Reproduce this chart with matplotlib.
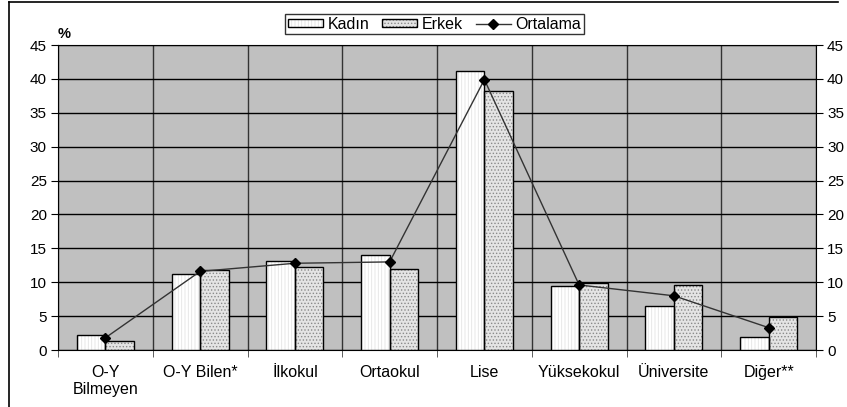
import numpy as np
import matplotlib
matplotlib.use("Agg")
import matplotlib.pyplot as plt
from matplotlib.patches import Patch
from matplotlib.lines import Line2D
from matplotlib.legend_handler import HandlerTuple

categories = ["O-Y\nBilmeyen", "O-Y Bilen*", "İlkokul", "Ortaokul", "Lise",
              "Yüksekokul", "Üniversite", "Diğer**"]
kadin = [2.2, 11.2, 13.2, 14.0, 41.2, 9.4, 6.5, 1.9]
erkek = [1.3, 11.8, 12.3, 11.9, 38.2, 9.9, 9.6, 4.8]
ortalama = [1.8, 11.6, 12.8, 13.0, 39.9, 9.6, 8.0, 3.3]
yticks = list(range(0, 50, 5))

plt.rcParams['font.family'] = ['Liberation Sans', 'DejaVu Sans']
plt.rcParams['hatch.linewidth'] = 0.6

fig = plt.figure(figsize=(8.47, 4.07), dpi=100)
ax = fig.add_axes([0.0685, 0.140, 0.8949, 0.7494])
ax.set_facecolor('#c0c0c0')

x = np.arange(len(categories))
w = 0.3
# hatched fills, then black outlines
ax.bar(x - w / 2, kadin, w, color='white', edgecolor='#e4e4e4', hatch='|||||',
       linewidth=0, zorder=3)
ax.bar(x + w / 2, erkek, w, color='#e4e4e4', edgecolor='#8a8a8a', hatch='.....',
       linewidth=0, zorder=3)
ax.bar(x - w / 2, kadin, w, fill=False, edgecolor='black', linewidth=1, zorder=4)
ax.bar(x + w / 2, erkek, w, fill=False, edgecolor='black', linewidth=1, zorder=4)
ax.plot(x, ortalama, color='#333333', lw=1, marker='D', ms=5.5,
        mfc='black', mec='black', zorder=5)

ax.set_xlim(-0.5, len(categories) - 0.5)
ax.set_ylim(0, 45)
ax.set_yticks(yticks)
ax.set_xticks(x)
ax.set_xticklabels(categories, fontsize=11.5, linespacing=1.15)
ax.set_xticks(np.arange(-0.5, len(categories)), minor=True)
ax.tick_params(axis='x', which='major', length=0, pad=11)
ax.tick_params(axis='x', which='minor', length=5, direction='out', color='#444444')
ax.tick_params(axis='y', labelsize=11, length=5, direction='out', pad=3)
ax.grid(axis='y', which='major', color='black', lw=1, zorder=1)
ax.grid(axis='x', which='minor', color='#333333', lw=1, zorder=1)
ax.set_axisbelow(True)
for s in ax.spines.values():
    s.set_color('black')

ax2 = ax.twinx()
ax2.set_ylim(0, 45)
ax2.set_yticks(yticks)
ax2.tick_params(axis='y', labelsize=11, length=5, direction='out', pad=3)
for s in ax2.spines.values():
    s.set_visible(False)

ax.text(0.0, 1.012, "%", transform=ax.transAxes, fontsize=10.5,
        fontweight='bold', ha='left', va='bottom')

h_k = (Patch(facecolor='white', edgecolor='#e4e4e4', hatch='|||||', lw=0),
       Patch(fill=False, edgecolor='black', lw=1))
h_e = (Patch(facecolor='#e4e4e4', edgecolor='#8a8a8a', hatch='.....', lw=0),
       Patch(fill=False, edgecolor='black', lw=1))
h_o = Line2D([], [], color='#333333', lw=1, marker='D', ms=5.5, mfc='black', mec='black')
leg = fig.legend([h_k, h_e, h_o], ["Kadın", "Erkek", "Ortalama"],
                 handler_map={tuple: HandlerTuple(ndivide=1)},
                 loc='center', bbox_to_anchor=(0.513, 0.941), ncol=3,
                 fontsize=11.5, frameon=True, fancybox=False, edgecolor='black',
                 borderpad=0.15, handlelength=2.2, handleheight=0.45,
                 handletextpad=0.3, columnspacing=0.8, borderaxespad=0)
leg.get_frame().set_linewidth(1)

# outer chart frame
fig.add_artist(Line2D([9 / 847, 9 / 847], [0, 1 - 2 / 407], color='black', lw=1.2))
fig.add_artist(Line2D([9 / 847, 838 / 847], [1 - 2 / 407, 1 - 2 / 407], color='black', lw=1.2))

fig.savefig("out.png", dpi=100)
